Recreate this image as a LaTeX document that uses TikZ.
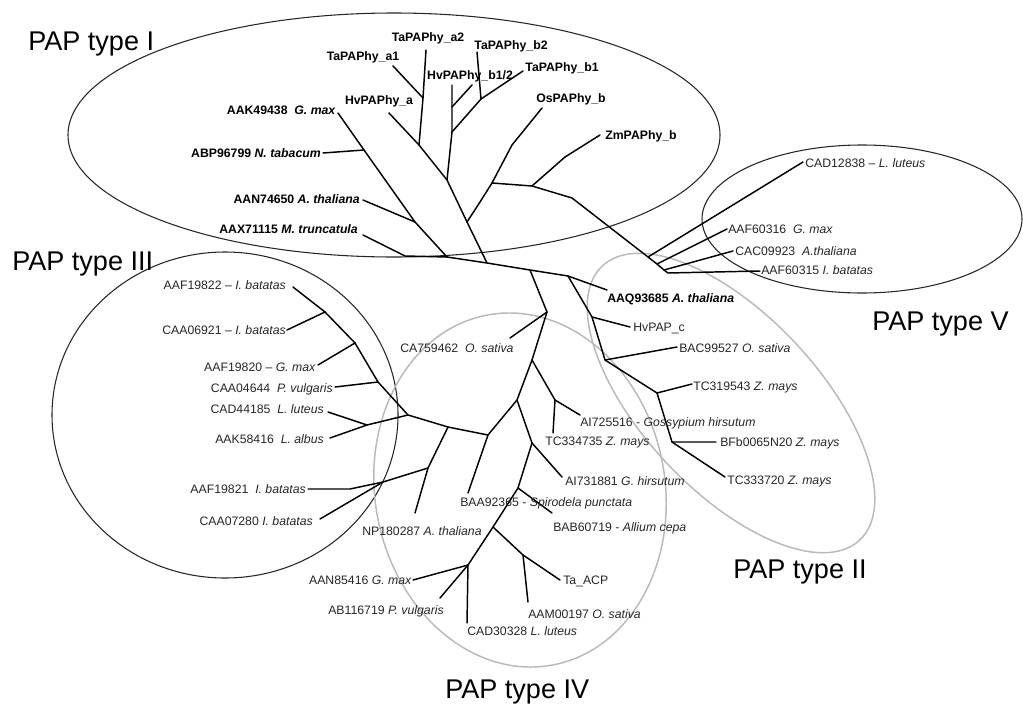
\documentclass[tikz,border=0pt]{standalone}
\usepackage{fontspec}
\setmainfont{Liberation Sans}
\begin{document}
\begin{tikzpicture}[x=0.75pt,y=-0.75pt,
  br/.style={line width=1.1pt,black,line join=round,line cap=round},
  lab/.style={font=\fontsize{9.2}{11}\selectfont,text=black!85,inner sep=0pt},
  labb/.style={font=\fontsize{9.2}{11}\selectfont\bfseries,text=black,inner sep=0pt},
  ttl/.style={font=\fontsize{20.3}{24}\selectfont,inner sep=0pt},
  grp/.style={line width=0.8pt,black!85},
  grpg/.style={line width=1.1pt,gray!55}]
\useasboundingbox (0,0) rectangle (1023,703);

% ---------- group outlines ----------
\draw[grp] (394,135) ellipse [x radius=326, y radius=122];
\draw[grp] (862,219) ellipse [x radius=160, y radius=74];
\draw[grp] (225,415) ellipse [x radius=173, y radius=163];
\draw[grpg, rotate around={-46.8:(731,403)}] (731,403) ellipse [x radius=188, y radius=88];
\draw[grpg, rotate around={10.5:(520,490)}] (520,490) ellipse [x radius=145, y radius=178];

% ---------- coordinates ----------
% type I
\coordinate (aak) at (338,113);
\coordinate (abp) at (323,153);
\coordinate (i1) at (364,150);
\coordinate (aan) at (363,200);
\coordinate (i2) at (415,222);
\coordinate (aax) at (363,235);
\coordinate (aaxb) at (405,256);
\coordinate (n1) at (447,257);
\coordinate (n2) at (487,263);
\coordinate (r) at (467,222);
\coordinate (h) at (447,180);
\coordinate (g) at (419,145);
\coordinate (hva) at (389,113);
\coordinate (ga) at (423,98);
\coordinate (a1) at (393,66);
\coordinate (a2) at (426,50);
\coordinate (b1n) at (452,132);
\coordinate (b2n) at (452,107);
\coordinate (hvb) at (452,85);
\coordinate (hvbb) at (472,85);
\coordinate (tb) at (481,99);
\coordinate (tb2) at (477,52);
\coordinate (tb1) at (523,71);
\coordinate (ra) at (480,202);
\coordinate (p) at (492,183);
\coordinate (osb) at (512,145);
\coordinate (os) at (542,108);
\coordinate (q) at (532,186);
\coordinate (zmb) at (565,157);
\coordinate (zm) at (600,135);
\coordinate (s) at (572,198);
% type V
\coordinate (v1) at (648,257);
\coordinate (v2) at (657,264);
\coordinate (v3) at (664,270);
\coordinate (v4) at (668,273);
\coordinate (cad12) at (803,162);
\coordinate (aaf16) at (727,229);
\coordinate (cac09) at (733,251);
\coordinate (aaf15) at (760,271);
% spine
\coordinate (n3) at (530,270);
\coordinate (n5) at (568,276);
\coordinate (aaq) at (607,290);
% type II
\coordinate (n6) at (592,317);
\coordinate (hvc) at (630,327);
\coordinate (n7b) at (605,360);
\coordinate (bac) at (677,347);
\coordinate (n8b) at (657,393);
\coordinate (tc19) at (692,384);
\coordinate (n9b) at (672,442);
\coordinate (bfb) at (716,442);
\coordinate (tc20) at (725,477);
% type IV
\coordinate (n4) at (547,312);
\coordinate (ca75) at (510,338);
\coordinate (m) at (532,360);
\coordinate (ai5n) at (555,400);
\coordinate (ai5) at (580,415);
\coordinate (tc34) at (553,433);
\coordinate (k) at (517,400);
\coordinate (p1) at (532,443);
\coordinate (ai7) at (562,477);
\coordinate (p2) at (518,488);
\coordinate (bab) at (552,513);
\coordinate (p3) at (493,527);
\coordinate (p4) at (523,555);
\coordinate (taacp) at (560,580);
\coordinate (aam) at (528,602);
\coordinate (p5) at (468,565);
\coordinate (aan85) at (413,580);
\coordinate (ab11) at (440,598);
\coordinate (cad30) at (467,623);
\coordinate (n7) at (488,435);
\coordinate (baa) at (468,493);
\coordinate (j) at (448,427);
\coordinate (l) at (428,468);
\coordinate (np) at (415,513);
\coordinate (n8) at (383,482);
\coordinate (aaf21b) at (350,489);
\coordinate (aaf21) at (308,489);
\coordinate (caa07) at (320,519);
% type III
\coordinate (t0) at (408,415);
\coordinate (t1) at (378,382);
\coordinate (t2) at (355,343);
\coordinate (t3) at (325,312);
\coordinate (aaf22) at (293,287);
\coordinate (caa06) at (287,330);
\coordinate (aaf20) at (318,365);
\coordinate (caa04) at (335,387);
\coordinate (t4) at (367,425);
\coordinate (cad44) at (328,412);
\coordinate (aak58) at (330,438);

% ---------- branches ----------
% type I
\draw[br] (aak) -- (i1) -- (i2) -- (n1);
\draw[br] (abp) -- (i1);
\draw[br] (aan) -- (i2);
\draw[br] (aax) -- (aaxb) -- (n1);
\draw[br] (n1) -- (n2);
\draw[br] (n2) -- (r) -- (h) -- (g) -- (hva);
\draw[br] (g) -- (ga) -- (a1);
\draw[br] (ga) -- (a2);
\draw[br] (h) -- (b1n) -- (b2n) -- (hvb);
\draw[br] (b2n) -- (hvbb);
\draw[br] (b1n) -- (tb) -- (tb2);
\draw[br] (tb) -- (tb1);
\draw[br] (r) -- (ra) -- (p) -- (osb) -- (os);
\draw[br] (p) -- (q) -- (zmb) -- (zm);
\draw[br] (q) -- (s) -- (v1) -- (v2) -- (v3) -- (v4) -- (aaf15);
\draw[br] (v1) -- (cad12);
\draw[br] (v2) -- (aaf16);
\draw[br] (v3) -- (cac09);
% spine
\draw[br] (n2) -- (n3) -- (n5) -- (aaq);
\draw[br] (n3) -- (n4);
% type II
\draw[br] (n5) -- (n6) -- (hvc);
\draw[br] (n6) -- (n7b) -- (bac);
\draw[br] (n7b) -- (n8b) -- (tc19);
\draw[br] (n8b) -- (n9b) -- (bfb);
\draw[br] (n9b) -- (tc20);
% type IV
\draw[br] (n4) -- (ca75);
\draw[br] (n4) -- (m) -- (ai5n) -- (ai5);
\draw[br] (ai5n) -- (tc34);
\draw[br] (m) -- (k) -- (p1) -- (ai7);
\draw[br] (p1) -- (p2) -- (bab);
\draw[br] (p2) -- (p3) -- (p4) -- (taacp);
\draw[br] (p4) -- (aam);
\draw[br] (p3) -- (p5) -- (aan85);
\draw[br] (p5) -- (ab11);
\draw[br] (p5) -- (cad30);
\draw[br] (k) -- (n7) -- (baa);
\draw[br] (n7) -- (j) -- (t0);
\draw[br] (j) -- (l) -- (np);
\draw[br] (l) -- (n8) -- (aaf21b) -- (aaf21);
\draw[br] (n8) -- (caa07);
% type III
\draw[br] (t0) -- (t1) -- (t2) -- (t3) -- (aaf22);
\draw[br] (t3) -- (caa06);
\draw[br] (t2) -- (aaf20);
\draw[br] (t1) -- (caa04);
\draw[br] (t0) -- (t4) -- (cad44);
\draw[br] (t4) -- (aak58);

% ---------- labels: type I ----------
\node[labb,anchor=base] (Lta1) at (363,60) {TaPAPhy\_a1};
\node[labb,anchor=base] (Lta2) at (428,41) {TaPAPhy\_a2};
\node[labb,anchor=base] (Ltb2) at (511,49) {TaPAPhy\_b2};
\node[labb,anchor=base] (Lhvb) at (470,79) {HvPAPhy\_b1/2};
\node[labb,anchor=base] (Ltb1) at (562,71) {TaPAPhy\_b1};
\node[labb,anchor=base] (Lhva) at (379,104) {HvPAPhy\_a};
\node[labb,anchor=base] (Los) at (571,102) {OsPAPhy\_b};
\node[labb,anchor=base] (Lzm) at (641,139) {ZmPAPhy\_b};
\node[labb,anchor=base east] (Laak) at (336,114) {AAK49438~\ \textit{G. max}};
\node[labb,anchor=base east] (Labp) at (321,157) {ABP96799 \textit{N. tabacum}};
\node[labb,anchor=base east] (Laan) at (360,203) {AAN74650 \textit{A. thaliana}};
\node[labb,anchor=base east] (Laax) at (358,233) {AAX71115 \textit{M. truncatula}};
% type V
\node[lab,anchor=base west] (Lcad12) at (805,167) {CAD12838 – \textit{L. luteus}};
\node[lab,anchor=base west] (Laaf16) at (728,233) {AAF60316~\ \textit{G. max}};
\node[lab,anchor=base west] (Lcac09) at (735,255) {CAC09923~\ \textit{A.thaliana}};
\node[lab,anchor=base west] (Laaf15) at (761,274) {AAF60315 \textit{I. batatas}};
\node[labb,anchor=base west] (Laaq) at (607,302) {AAQ93685 \textit{A. thaliana}};
% type II
\node[lab,anchor=base west] (Lhvc) at (633,331) {HvPAP\_c};
\node[lab,anchor=base west] (Lbac) at (679,352) {BAC99527 \textit{O. sativa}};
\node[lab,anchor=base west] (Ltc19) at (693,390) {TC319543 \textit{Z. mays}};
\node[lab,anchor=base west] (Lbfb) at (720,446) {BFb0065N20 \textit{Z. mays}};
\node[lab,anchor=base west] (Ltc20) at (727,484) {TC333720 \textit{Z. mays}};
% type IV
\node[lab,anchor=base west] (Lca75) at (400,352) {CA759462~\ \textit{O. sativa}};
\node[lab,anchor=base west] (Lai5) at (580,426) {AI725516 - \textit{Gossypium hirsutum}};
\node[lab,anchor=base west] (Ltc34) at (545,445) {TC334735 \textit{Z. mays}};
\node[lab,anchor=base west] (Lai7) at (565,485) {AI731881 \textit{G. hirsutum}};
\node[lab,anchor=base west] (Lbaa) at (460,506) {BAA92365 - \textit{Spirodela punctata}};
\node[lab,anchor=base west] (Lbab) at (553,531) {BAB60719 - \textit{Allium cepa}};
\node[lab,anchor=base west] (Lnp) at (362,535) {NP180287 \textit{A. thaliana}};
\node[lab,anchor=base east] (Laan85) at (412,584) {AAN85416 \textit{G. max}};
\node[lab,anchor=base west] (Lab11) at (328,614) {AB116719 \textit{P. vulgaris}};
\node[lab,anchor=base west] (Lcad30) at (467,635) {CAD30328 \textit{L. luteus}};
\node[lab,anchor=base west] (Ltaacp) at (563,584) {Ta\_ACP};
\node[lab,anchor=base west] (Laam) at (528,618) {AAM00197 \textit{O. sativa}};
% type III
\node[lab,anchor=base east] (Laaf22) at (286,289) {AAF19822 – \textit{I. batatas}};
\node[lab,anchor=base east] (Lcaa06) at (286,334) {CAA06921 – \textit{I. batatas}};
\node[lab,anchor=base east] (Laaf20) at (316,371) {AAF19820 – \textit{G. max}};
\node[lab,anchor=base east] (Lcaa04) at (333,392) {CAA04644~\ \textit{P. vulgaris}};
\node[lab,anchor=base east] (Lcad44) at (324,413) {CAD44185~\ \textit{L. luteus}};
\node[lab,anchor=base east] (Laak58) at (324,443) {AAK58416~\ \textit{L. albus}};
\node[lab,anchor=base east] (Laaf21) at (306,493) {AAF19821~\ \textit{I. batatas}};
\node[lab,anchor=base east] (Lcaa07) at (313,525) {CAA07280 \textit{I. batatas}};

% ---------- titles ----------
\node[ttl,anchor=base west] (T1) at (28,50) {PAP type I};
\node[ttl,anchor=base west] (T3) at (12,270) {PAP type III};
\node[ttl,anchor=base west] (T5) at (872,330) {PAP type V};
\node[ttl,anchor=base west] (T2) at (733,578) {PAP type II};
\node[ttl,anchor=base west] (T4) at (445,698) {PAP type IV};
\end{tikzpicture}
\end{document}
